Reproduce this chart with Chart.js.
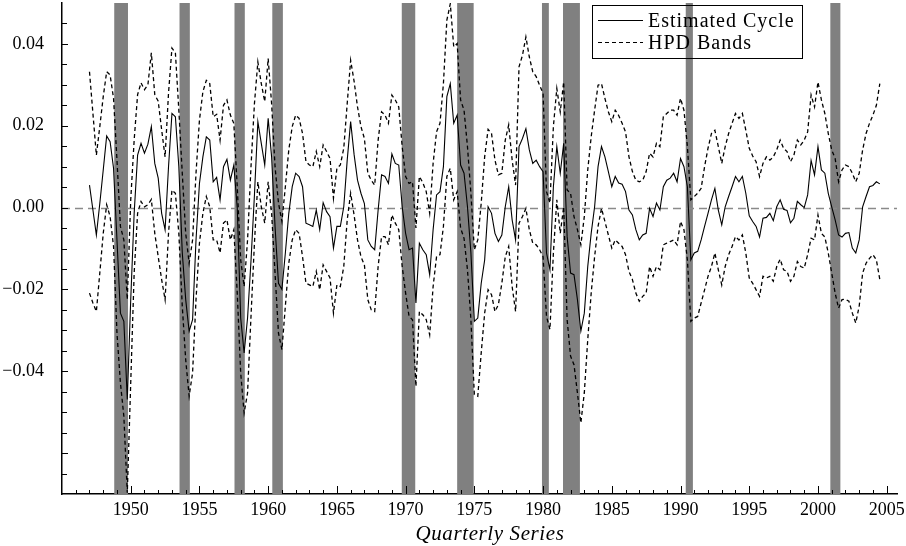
<!DOCTYPE html>
<html>
<head>
<meta charset="utf-8">
<script src="https://cdn.jsdelivr.net/npm/chart.js@4.4.1/dist/chart.umd.min.js"></script>
<style>
  html, body { margin: 0; padding: 0; background: #fff; overflow: hidden; }
  #wrap { position: relative; width: 906px; height: 546px; overflow: hidden; }
  #c { position: absolute; left: 0; top: 0; }
</style>
</head>
<body>
<div id="wrap"><canvas id="c" width="906" height="546"></canvas></div>
<script>
// Quarterly observations, starting 1947Q1
const firstYear = 1947;

const cycle = [
  0.0055, -0.0006, -0.0067, 0.0010, 0.0092, 0.0175, 0.0161, 0.0096, -0.0080, -0.0258,
  -0.0278, -0.0469, -0.0225, -0.0014, 0.0128, 0.0157, 0.0133, 0.0155, 0.0198, 0.0108,
  0.0072, -0.0014, -0.0054, 0.0100, 0.0230, 0.0222, 0.0100, -0.0110, -0.0225, -0.0302,
  -0.0274, -0.0079, 0.0059, 0.0124, 0.0173, 0.0165, 0.0063, 0.0074, 0.0019, 0.0100,
  0.0118, 0.0067, 0.0104, 0.0000, -0.0270, -0.0355, -0.0270, -0.0130, 0.0030, 0.0210,
  0.0157, 0.0104, 0.0218, 0.0124, -0.0046, -0.0185, -0.0200, -0.0111, -0.0014, 0.0051,
  0.0084, 0.0076, 0.0051, -0.0038, -0.0042, -0.0046, -0.0006, -0.0054, 0.0012, -0.0010,
  -0.0022, -0.0099, -0.0046, -0.0046, 0.0002, 0.0116, 0.0210, 0.0130, 0.0067, 0.0035,
  0.0010, -0.0079, -0.0095, -0.0103, -0.0006, 0.0080, 0.0076, 0.0059, 0.0131, 0.0108,
  0.0104, 0.0002, -0.0063, -0.0103, -0.0099, -0.0233, -0.0087, -0.0103, -0.0115, -0.0164,
  -0.0054, 0.0031, 0.0039, 0.0100, 0.0271, 0.0303, 0.0206, 0.0226, 0.0104, 0.0084,
  0.0002, -0.0111, -0.0278, -0.0270, -0.0185, -0.0128, 0.0002, -0.0014, -0.0063, -0.0083,
  -0.0067, 0.0002, 0.0051, -0.0030, -0.0079, 0.0149, 0.0169, 0.0193, 0.0141, 0.0108,
  0.0116, 0.0100, 0.0088, -0.0111, -0.0152, 0.0051, 0.0149, 0.0084, 0.0157, -0.0071,
  -0.0160, -0.0164, -0.0225, -0.0302, -0.0258, -0.0144, -0.0063, 0.0002, 0.0100, 0.0149,
  0.0124, 0.0088, 0.0051, 0.0076, 0.0060, 0.0057, 0.0039, -0.0006, -0.0018, -0.0054,
  -0.0079, -0.0067, -0.0063, -0.0002, -0.0022, 0.0011, -0.0006, 0.0051, 0.0067, 0.0072,
  0.0084, 0.0063, 0.0120, 0.0100, 0.0051, -0.0128, -0.0111, -0.0107, -0.0079, -0.0046,
  -0.0014, 0.0019, 0.0047, -0.0006, -0.0042, 0.0002, 0.0027, 0.0051, 0.0076, 0.0063,
  0.0076, 0.0035, -0.0020, -0.0034, -0.0046, -0.0072, -0.0026, -0.0024, -0.0014, -0.0032,
  0.0002, 0.0019, -0.0004, -0.0007, -0.0037, -0.0026, 0.0015, 0.0007, 0.0000, 0.0031,
  0.0115, 0.0080, 0.0149, 0.0092, 0.0084, 0.0035, 0.0002, -0.0030, -0.0067, -0.0072,
  -0.0063, -0.0061, -0.0099, -0.0111, -0.0079, 0.0002, 0.0027, 0.0051, 0.0054, 0.0063,
  0.0058
];

const upperBand = [
  0.0332, 0.0230, 0.0128, 0.0198, 0.0271, 0.0332, 0.0324, 0.0267, 0.0116, -0.0046,
  -0.0079, -0.0225, 0.0019, 0.0165, 0.0276, 0.0305, 0.0288, 0.0300, 0.0378, 0.0276,
  0.0260, 0.0190, 0.0124, 0.0280, 0.0390, 0.0378, 0.0238, 0.0084, -0.0063, -0.0136,
  -0.0079, 0.0084, 0.0214, 0.0283, 0.0311, 0.0303, 0.0222, 0.0228, 0.0165, 0.0250,
  0.0263, 0.0226, 0.0206, 0.0051, -0.0128, -0.0193, -0.0079, 0.0100, 0.0254, 0.0356,
  0.0303, 0.0259, 0.0364, 0.0254, 0.0100, 0.0011, -0.0034, 0.0051, 0.0141, 0.0198,
  0.0226, 0.0218, 0.0181, 0.0112, 0.0104, 0.0100, 0.0137, 0.0100, 0.0153, 0.0137,
  0.0120, 0.0023, 0.0096, 0.0104, 0.0145, 0.0254, 0.0360, 0.0309, 0.0246, 0.0198,
  0.0169, 0.0084, 0.0067, 0.0055, 0.0165, 0.0234, 0.0226, 0.0206, 0.0275, 0.0263,
  0.0246, 0.0149, 0.0076, 0.0059, 0.0063, -0.0050, 0.0076, 0.0061, 0.0039, -0.0014,
  0.0108, 0.0185, 0.0206, 0.0303, 0.0458, 0.0498, 0.0393, 0.0401, 0.0263, 0.0238,
  0.0149, 0.0035, -0.0103, -0.0079, 0.0011, 0.0124, 0.0191, 0.0181, 0.0116, 0.0080,
  0.0084, 0.0165, 0.0202, 0.0116, 0.0055, 0.0344, 0.0372, 0.0417, 0.0368, 0.0332,
  0.0320, 0.0299, 0.0279, 0.0039, 0.0011, 0.0198, 0.0291, 0.0234, 0.0307, 0.0043,
  0.0035, -0.0022, -0.0054, -0.0091, -0.0022, 0.0092, 0.0173, 0.0238, 0.0299, 0.0303,
  0.0267, 0.0234, 0.0210, 0.0238, 0.0225, 0.0206, 0.0185, 0.0124, 0.0088, 0.0067,
  0.0063, 0.0067, 0.0088, 0.0133, 0.0124, 0.0157, 0.0149, 0.0222, 0.0230, 0.0238,
  0.0238, 0.0226, 0.0267, 0.0238, 0.0149, 0.0019, 0.0027, 0.0035, 0.0047, 0.0100,
  0.0145, 0.0181, 0.0189, 0.0149, 0.0108, 0.0149, 0.0181, 0.0206, 0.0230, 0.0218,
  0.0230, 0.0189, 0.0145, 0.0126, 0.0112, 0.0076, 0.0108, 0.0124, 0.0116, 0.0124,
  0.0141, 0.0165, 0.0145, 0.0137, 0.0112, 0.0128, 0.0165, 0.0153, 0.0165, 0.0185,
  0.0275, 0.0246, 0.0307, 0.0263, 0.0230, 0.0181, 0.0141, 0.0120, 0.0063, 0.0092,
  0.0104, 0.0100, 0.0084, 0.0063, 0.0084, 0.0141, 0.0181, 0.0206, 0.0226, 0.0250,
  0.0303
];

const lowerBand = [
  -0.0209, -0.0233, -0.0254, -0.0160, -0.0063, 0.0007, -0.0022, -0.0095, -0.0307, -0.0428,
  -0.0510, -0.0697, -0.0428, -0.0160, -0.0014, 0.0015, 0.0002, 0.0007, 0.0020, -0.0063,
  -0.0120, -0.0176, -0.0225, -0.0063, 0.0043, 0.0035, -0.0063, -0.0241, -0.0372, -0.0461,
  -0.0404, -0.0225, -0.0087, -0.0014, 0.0027, 0.0002, -0.0079, -0.0079, -0.0111, -0.0038,
  -0.0030, -0.0079, -0.0054, -0.0209, -0.0404, -0.0502, -0.0453, -0.0266, -0.0087, 0.0063,
  0.0002, -0.0038, 0.0063, -0.0014, -0.0160, -0.0307, -0.0347, -0.0241, -0.0136, -0.0079,
  -0.0054, -0.0063, -0.0120, -0.0185, -0.0189, -0.0193, -0.0156, -0.0201, -0.0140, -0.0156,
  -0.0172, -0.0258, -0.0189, -0.0193, -0.0144, -0.0030, 0.0035, -0.0018, -0.0079, -0.0120,
  -0.0140, -0.0225, -0.0250, -0.0254, -0.0144, -0.0071, -0.0071, -0.0091, -0.0018, -0.0038,
  -0.0054, -0.0144, -0.0209, -0.0266, -0.0274, -0.0437, -0.0254, -0.0262, -0.0274, -0.0311,
  -0.0193, -0.0120, -0.0115, -0.0046, 0.0076, 0.0096, 0.0019, 0.0039, -0.0050, -0.0075,
  -0.0152, -0.0274, -0.0457, -0.0461, -0.0355, -0.0258, -0.0201, -0.0213, -0.0254, -0.0237,
  -0.0185, -0.0120, -0.0095, -0.0193, -0.0254, -0.0038, -0.0022, -0.0002, -0.0054, -0.0087,
  -0.0091, -0.0103, -0.0120, -0.0266, -0.0298, -0.0111, 0.0019, -0.0063, 0.0002, -0.0274,
  -0.0363, -0.0384, -0.0453, -0.0526, -0.0453, -0.0323, -0.0209, -0.0120, -0.0046, -0.0002,
  -0.0034, -0.0067, -0.0099, -0.0079, -0.0087, -0.0095, -0.0115, -0.0156, -0.0176, -0.0209,
  -0.0229, -0.0217, -0.0209, -0.0144, -0.0168, -0.0144, -0.0152, -0.0091, -0.0087, -0.0083,
  -0.0079, -0.0091, -0.0034, -0.0054, -0.0128, -0.0278, -0.0270, -0.0266, -0.0233, -0.0201,
  -0.0168, -0.0144, -0.0111, -0.0152, -0.0189, -0.0144, -0.0115, -0.0095, -0.0071, -0.0079,
  -0.0067, -0.0111, -0.0172, -0.0185, -0.0201, -0.0217, -0.0168, -0.0172, -0.0168, -0.0180,
  -0.0144, -0.0126, -0.0152, -0.0156, -0.0180, -0.0168, -0.0132, -0.0144, -0.0148, -0.0115,
  -0.0075, -0.0079, -0.0018, -0.0063, -0.0072, -0.0111, -0.0160, -0.0209, -0.0246, -0.0225,
  -0.0224, -0.0229, -0.0258, -0.0282, -0.0241, -0.0160, -0.0136, -0.0124, -0.0115, -0.0128,
  -0.0176
];

// Shaded recession periods [start, end] in decimal years
const recessions = [
  [1948.80, 1949.80], [1953.55, 1954.30], [1957.55, 1958.30], [1960.30, 1961.07],
  [1969.72, 1970.70], [1973.75, 1974.95], [1979.92, 1980.42], [1981.45, 1982.68],
  [1990.38, 1990.90], [2000.90, 2001.63]
];

const xTickYears = [1950, 1955, 1960, 1965, 1970, 1975, 1980, 1985, 1990, 1995, 2000, 2005];
const yTickValues = [-0.04, -0.02, 0.00, 0.02, 0.04];
const seriesNames = ['Estimated Cycle', 'HPD Bands'];
const xTitle = 'Quarterly Series';

const SERIF = '"Liberation Serif", "Times New Roman", Times, serif';

const toPoints = values => values.map((v, i) => ({ x: firstYear + i / 4, y: v }));

// y tick labels with a typographic minus sign
const formatY = v => (v < 0 ? '\u2212' : '') + Math.abs(v).toFixed(2);

const decorations = {
  id: 'decorations',
  beforeDatasetsDraw(chart) {
    const { ctx, chartArea: a, scales: { x, y } } = chart;
    ctx.save();
    // recession shading
    ctx.fillStyle = '#808080';
    recessions.forEach(([s, e]) => {
      const x0 = x.getPixelForValue(s);
      const x1 = x.getPixelForValue(e);
      ctx.fillRect(x0, a.top, x1 - x0, a.bottom - a.top);
    });
    // zero reference line
    const y0 = Math.round(y.getPixelForValue(0)) + 0.5;
    ctx.strokeStyle = '#8a8a8a';
    ctx.lineWidth = 1.5;
    ctx.setLineDash([8, 5]);
    ctx.beginPath();
    ctx.moveTo(a.left, y0);
    ctx.lineTo(a.right, y0);
    ctx.stroke();
    ctx.restore();
  },
  afterDraw(chart) {
    const { ctx, chartArea: a, scales: { x, y } } = chart;
    ctx.save();
    ctx.strokeStyle = '#000';
    ctx.lineWidth = 1;
    ctx.setLineDash([]);
    // inward tick marks on the x axis: every year, longer every five
    ctx.beginPath();
    for (let yr = 1946; yr <= 2005; yr++) {
      const px = Math.round(x.getPixelForValue(yr)) + 0.5;
      const len = yr % 5 === 0 ? 8 : 4;
      ctx.moveTo(px, a.bottom);
      ctx.lineTo(px, a.bottom - len);
    }
    // inward tick marks on the y axis, every 0.005
    for (let k = -13; k <= 9; k++) {
      const py = Math.round(y.getPixelForValue(k * 0.005)) + 0.5;
      const len = k % 4 === 0 ? 6 : 5;
      ctx.moveTo(a.left, py);
      ctx.lineTo(a.left + len, py);
    }
    ctx.stroke();

    // legend box
    const bx = 592, by = 5, bw = 210, bh = 53;
    ctx.strokeRect(bx + 0.5, by + 0.5, bw, bh);
    const rows = [
      { label: seriesNames[0], dash: [], y: 20 },
      { label: seriesNames[1], dash: [4, 3], y: 42 }
    ];
    ctx.font = '20px ' + SERIF;
    ctx.fillStyle = '#000';
    ctx.textBaseline = 'alphabetic';
    if ('letterSpacing' in ctx) ctx.letterSpacing = '1px';
    rows.forEach(r => {
      ctx.setLineDash(r.dash);
      ctx.lineWidth = 1.2;
      ctx.beginPath();
      ctx.moveTo(598, r.y + 0.5);
      ctx.lineTo(643, r.y + 0.5);
      ctx.stroke();
      ctx.fillText(r.label, 648, r.y + 7);
    });

    // x-axis title
    ctx.font = 'italic 21px ' + SERIF;
    ctx.textAlign = 'center';
    if ('letterSpacing' in ctx) ctx.letterSpacing = '0.6px';
    ctx.fillText(xTitle, 490, 540);
    ctx.restore();
  }
};

new Chart(document.getElementById('c'), {
  type: 'line',
  data: {
    datasets: [
      {
        label: seriesNames[0],
        data: toPoints(cycle),
        borderColor: '#000',
        borderWidth: 1.1,
        pointRadius: 0,
        tension: 0
      },
      {
        label: seriesNames[1],
        data: toPoints(upperBand),
        borderColor: '#000',
        borderWidth: 1.3,
        borderDash: [4, 3],
        pointRadius: 0,
        tension: 0
      },
      {
        label: seriesNames[1] + ' (lower)',
        data: toPoints(lowerBand),
        borderColor: '#000',
        borderWidth: 1.3,
        borderDash: [4, 3],
        pointRadius: 0,
        tension: 0
      }
    ]
  },
  options: {
    responsive: false,
    animation: false,
    devicePixelRatio: 1,
    parsing: false,
    layout: { autoPadding: false, padding: { left: 0, right: 9, top: 3, bottom: 0 } },
    plugins: { legend: { display: false }, tooltip: { enabled: false } },
    scales: {
      x: {
        type: 'linear',
        min: 1945,
        max: 2005.75,
        grid: { display: false, drawTicks: false },
        border: { display: true, color: '#000', width: 1.5 },
        afterBuildTicks: s => { s.ticks = xTickYears.map(v => ({ value: v })); },
        afterFit: s => { s.height = 52; s.paddingLeft = 0; s.paddingRight = 0; },
        ticks: {
          autoSkip: false,
          maxRotation: 0,
          padding: 5,
          color: '#000',
          font: { family: SERIF, size: 18 },
          callback: v => String(v)
        }
      },
      y: {
        min: -0.07,
        max: 0.05,
        grid: { display: false, drawTicks: false },
        border: { display: true, color: '#000', width: 1.5 },
        afterBuildTicks: s => { s.ticks = yTickValues.map(v => ({ value: v })); },
        afterFit: s => { s.width = 62; s.paddingTop = 0; s.paddingBottom = 0; },
        ticks: {
          padding: 18,
          color: '#000',
          font: { family: SERIF, size: 18 },
          callback: formatY
        }
      }
    }
  },
  plugins: [decorations]
});
</script>
</body>
</html>
